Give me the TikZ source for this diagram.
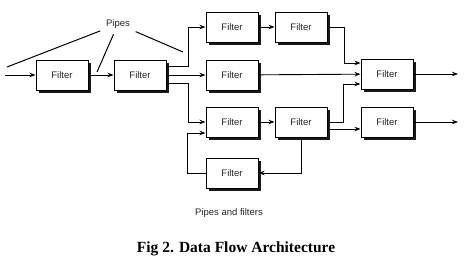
\documentclass[tikz,border=0pt]{standalone}
\usepackage{fontspec}
\setmainfont{Liberation Serif}
\setsansfont{Liberation Sans}
\usetikzlibrary{arrows.meta,shadows}

\begin{document}
\begin{tikzpicture}[x=1pt,y=-1pt,
  filter/.style={draw,line width=1pt,fill=white,minimum width=52pt,minimum height=30pt,
    inner sep=0pt,font=\sffamily\fontsize{9.5}{11}\selectfont,text=black!85,
    drop shadow={shadow xshift=2.6pt,shadow yshift=-2.6pt,fill=black!90,opacity=1}},
  flow/.style={-{Stealth[length=6pt,width=4.5pt]},line width=0.9pt},
  pipeline/.style={line width=1pt,shorten <=5pt},
  note/.style={font=\sffamily\fontsize{9.5}{11}\selectfont,text=black!85,inner sep=1pt}]
\useasboundingbox (0,0) rectangle (466,263);
\node[note] (pipes) at (118,24) {Pipes};
\node[filter] (f1) at (62,75) {Filter};
\node[filter] (f2) at (140,75) {Filter};
\node[filter] (f3) at (232,27) {Filter};
\node[filter] (f4) at (301,27) {Filter};
\node[filter] (f5) at (232,75) {Filter};
\node[filter] (f6) at (232,122) {Filter};
\node[filter] (f7) at (301,122) {Filter};
\node[filter] (f8) at (232,173) {Filter};
\node[filter] (f9) at (387,74) {Filter};
\node[filter] (f10) at (387,122) {Filter};
\coordinate (in) at (5,75);
\coordinate (out1) at (458,74);
\coordinate (out2) at (458,122);
% pipes pointer lines
\draw[pipeline] (pipes) -- (7,67);
\draw[pipeline] (pipes) -- (97,72);
\draw[pipeline] (pipes) -- (183,52);
% main flow
\draw[flow] (in) -- (f1);
\draw[flow] (f1) -- (f2);
\draw[flow] ([yshift=9pt]f2.east) -- ++(22,0) |- (f3);
\draw[flow] (f2) -- (f5);
\draw[flow] ([yshift=-8pt]f2.east) -- ++(22,0) |- (f6);
\draw[flow] (f3) -- (f4);
\draw[flow] (f4.east) -- ++(17,0) |- ([yshift=11pt]f9.west);
\draw[flow] (f5) -- (f9);
\draw[flow] (f6) -- (f7);
\draw[flow] (f7.east) -- ++(16,0) |- ([yshift=-10pt]f9.west);
\draw[flow] ([yshift=-7pt]f7.east) -- ([yshift=-7pt]f10.west);
\draw[flow] (f9) -- (out1);
\draw[flow] (f10) -- (out2);
% feedback loop
\draw[flow] (f7.south) |- (f8);
\draw[flow] (f8.west) -- ++(-18,0) |- ([yshift=-11pt]f6.west);
\node[note] (caption) at (229,213) {Pipes and filters};
\node[font=\fontsize{15.5}{18}\selectfont\bfseries] (title) at (236,249) {Fig 2. Data Flow Architecture};
\end{tikzpicture}
\end{document}
